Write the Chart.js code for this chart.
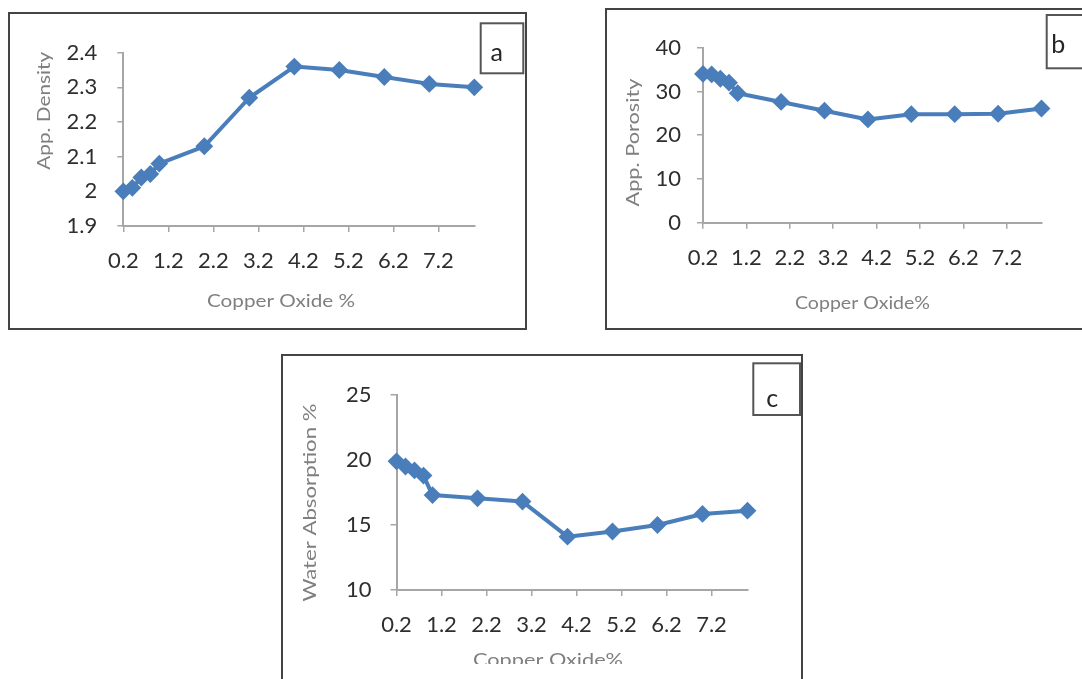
<!DOCTYPE html>
<html>
<head>
<meta charset="utf-8">
<title>Copper oxide additions: density, porosity and water absorption</title>
<script src="https://cdn.jsdelivr.net/npm/chart.js@4/dist/chart.umd.min.js"></script>
<style>
  html, body { margin: 0; padding: 0; background: #fff; width: 1082px; height: 679px; overflow: hidden; }
  .panel { position: absolute; box-sizing: border-box; border: 2px solid #444; background: #fff; overflow: hidden; }
  .panel canvas { position: absolute; left: 0; top: 0; }
</style>
</head>
<body>
<div class="panel" style="left:8px;top:12px;width:519px;height:318px"><canvas id="chartA" width="515" height="314"></canvas></div>
<div class="panel" style="left:605px;top:8px;width:500px;height:322px"><canvas id="chartB" width="496" height="318"></canvas></div>
<div class="panel" style="left:281px;top:354px;width:522px;height:340px"><canvas id="chartC" width="518" height="308"></canvas></div>

<script>
// Copper oxide content (%) and measured properties
const copperOxide     = [0.2, 0.4, 0.6, 0.8, 1, 2, 3, 4, 5, 6, 7, 8];
const appDensity      = [2.00, 2.01, 2.04, 2.05, 2.08, 2.13, 2.27, 2.36, 2.35, 2.33, 2.31, 2.30];
const appPorosity     = [34.0, 33.9, 32.9, 32.0, 29.6, 27.6, 25.6, 23.6, 24.8, 24.8, 24.9, 26.1];
const waterAbsorption = [19.9, 19.5, 19.2, 18.8, 17.3, 17.05, 16.8, 14.1, 14.5, 15.0, 15.85, 16.1];

// Axis tick values
const xTicks          = [0.2, 1.2, 2.2, 3.2, 4.2, 5.2, 6.2, 7.2];
const densityTicks    = [1.9, 2, 2.1, 2.2, 2.3, 2.4];
const porosityTicks   = [0, 10, 20, 30, 40];
const absorptionTicks = [10, 15, 20, 25];

const SERIES_BLUE = '#4a7ebb';
const AXIS_GREY = '#a6a6a6';
const TICK_TEXT = '#2e2e2e';
const TITLE_GREY = '#7f7f7f';

// Axis titles and the panel letter box, drawn on the chart canvas
const panelDecor = {
  id: 'panelDecor',
  afterDraw(chart, args, opts) {
    const ctx = chart.ctx;
    const ox = opts.origin[0], oy = opts.origin[1];
    ctx.save();
    for (const t of opts.titles) {
      ctx.save();
      ctx.font = '17px Lato';
      ctx.fillStyle = TITLE_GREY;
      ctx.textAlign = 'center';
      ctx.textBaseline = 'alphabetic';
      const w = ctx.measureText(t.text).width;
      if (t.rotate) {
        ctx.translate(t.base - ox, t.center - oy);
        ctx.rotate(-Math.PI / 2);
      } else {
        ctx.translate(t.center - ox, t.base - oy);
      }
      ctx.scale(t.len / w, 1);
      ctx.fillText(t.text, 0, 0);
      ctx.restore();
    }
    const b = opts.box;
    ctx.fillStyle = '#fff';
    ctx.fillRect(b.x0 - ox, b.y0 - oy, b.x1 - b.x0, b.y1 - b.y0);
    ctx.strokeStyle = '#555';
    ctx.lineWidth = 2;
    ctx.strokeRect(b.x0 - ox, b.y0 - oy, b.x1 - b.x0, b.y1 - b.y0);
    ctx.font = '25px Lato';
    ctx.fillStyle = '#262626';
    ctx.textAlign = 'center';
    ctx.textBaseline = 'alphabetic';
    ctx.fillText(b.letter, b.lx - ox, b.ly - oy);
    ctx.restore();
  }
};

function makeChart(cfg) {
  const canvas = document.getElementById(cfg.canvas);
  const W = canvas.width, H = canvas.height;
  const ox = cfg.origin[0], oy = cfg.origin[1];
  const L = cfg.plot.left - ox, T = cfg.plot.top - oy;
  const R = cfg.plot.right - ox, B = cfg.plot.bottom - oy;

  const axisGrid = { drawOnChartArea: false, drawTicks: true, tickLength: 6, color: AXIS_GREY, lineWidth: 1.5 };
  const axisBorder = { display: true, color: AXIS_GREY, width: 2 };
  const tickFont = { family: 'Lato', size: 22 };

  return new Chart(canvas, {
    type: 'scatter',
    data: {
      datasets: [{
        data: cfg.x.map((x, i) => ({ x: x, y: cfg.y[i] })),
        showLine: true,
        borderColor: SERIES_BLUE,
        backgroundColor: SERIES_BLUE,
        borderWidth: 4,
        borderJoinStyle: 'round',
        tension: 0,
        pointStyle: 'rectRot',
        pointRadius: 7.5,
        pointBorderWidth: 2,
        pointBorderColor: SERIES_BLUE,
        pointBackgroundColor: SERIES_BLUE,
        clip: false
      }]
    },
    options: {
      responsive: false,
      animation: false,
      events: [],
      layout: { padding: { left: 0, top: T, right: W - R, bottom: 0 } },
      plugins: {
        legend: { display: false },
        tooltip: { enabled: false },
        panelDecor: { origin: cfg.origin, titles: cfg.titles, box: cfg.box }
      },
      scales: {
        x: {
          type: 'linear',
          min: 0.2,
          max: 8,
          afterBuildTicks: s => { s.ticks = xTicks.map(v => ({ value: v })); },
          afterFit: s => { s.height = H - B; },
          grid: axisGrid,
          border: axisBorder,
          ticks: { padding: 16, color: TICK_TEXT, font: tickFont, maxRotation: 0, autoSkip: false,
                   callback: v => Number(v).toFixed(1) }
        },
        y: {
          type: 'linear',
          min: cfg.yTicks[0],
          max: cfg.yTicks[cfg.yTicks.length - 1],
          afterBuildTicks: s => { s.ticks = cfg.yTicks.map(v => ({ value: v })); },
          afterFit: s => { s.width = L; },
          grid: axisGrid,
          border: axisBorder,
          ticks: { padding: cfg.yPad, color: TICK_TEXT, font: tickFont, autoSkip: false,
                   callback: v => String(v) }
        }
      }
    },
    plugins: [panelDecor]
  });
}

function build() {
  makeChart({
    canvas: 'chartA', origin: [10, 14],
    plot: { left: 123.3, top: 52.7, right: 474.3, bottom: 226 },
    x: copperOxide, y: appDensity, yTicks: densityTicks, yPad: 20,
    titles: [
      { text: 'App. Density', rotate: true, base: 49.5, center: 110.8, len: 118 },
      { text: 'Copper Oxide %', base: 306.5, center: 281, len: 148 }
    ],
    box: { x0: 480.7, y0: 23.3, x1: 523.3, y1: 73.3, letter: 'a', lx: 496.7, ly: 61 }
  });
  makeChart({
    canvas: 'chartB', origin: [607, 10],
    plot: { left: 703, top: 47.7, right: 1041.5, bottom: 222.7 },
    x: copperOxide, y: appPorosity, yTicks: porosityTicks, yPad: 16,
    titles: [
      { text: 'App. Porosity', rotate: true, base: 639.2, center: 142.5, len: 128 },
      { text: 'Copper Oxide%', base: 309, center: 862.5, len: 135 }
    ],
    box: { x0: 1046.7, y0: 15, x1: 1110, y1: 68.3, letter: 'b', lx: 1058.3, ly: 52.5 }
  });
  makeChart({
    canvas: 'chartC', origin: [283, 356],
    plot: { left: 396.5, top: 395, right: 747.5, bottom: 590 },
    x: copperOxide, y: waterAbsorption, yTicks: absorptionTicks, yPad: 19,
    titles: [
      { text: 'Water Absorption %', rotate: true, base: 316, center: 502.5, len: 198 },
      { text: 'Copper Oxide%', base: 665.5, center: 548, len: 150 }
    ],
    box: { x0: 753.3, y0: 363.3, x1: 800, y1: 415, letter: 'c', lx: 772.3, ly: 406.5 }
  });
}

if (document.fonts && document.fonts.load) {
  Promise.all([document.fonts.load('22px Lato'), document.fonts.load('17px Lato')]).then(build, build);
} else {
  build();
}
</script>
</body>
</html>
